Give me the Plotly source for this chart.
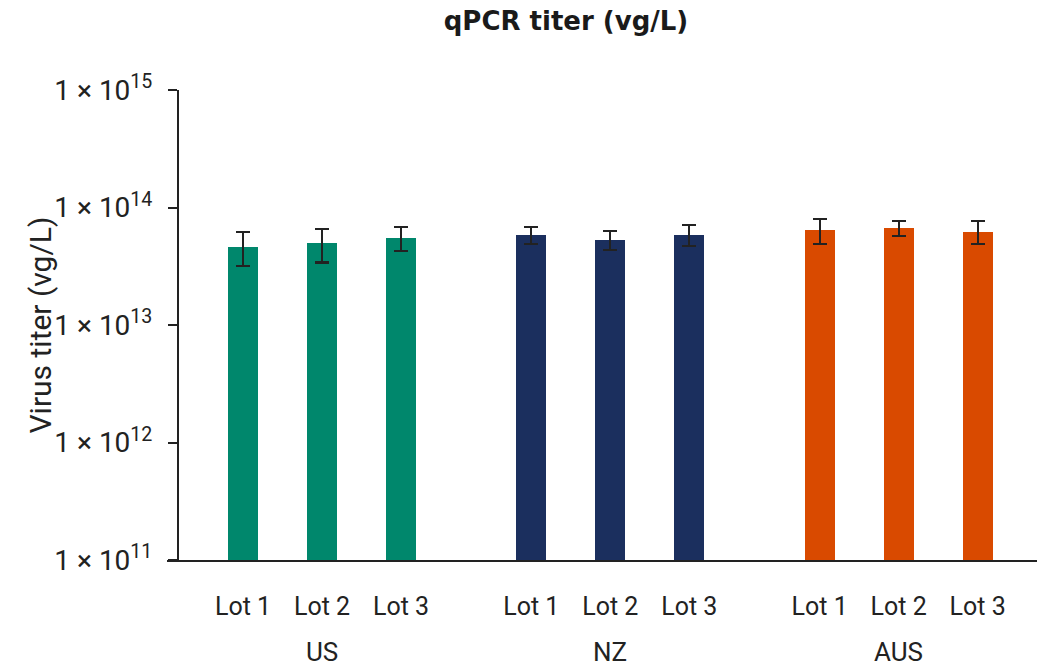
import plotly.graph_objects as go

groups = ["US", "NZ", "AUS"]
lots = ["Lot 1", "Lot 2", "Lot 3"]
colors = ["#00876C", "#1B2F5E", "#D94A00"]

# titers (vg/L) per group, per lot
values = {
    "US":  [4.64e13, 4.96e13, 5.53e13],
    "NZ":  [5.87e13, 5.33e13, 5.84e13],
    "AUS": [6.40e13, 6.69e13, 6.22e13],
}
err_hi = {
    "US":  [6.15e13, 6.56e13, 6.83e13],
    "NZ":  [6.87e13, 6.35e13, 7.06e13],
    "AUS": [8.00e13, 7.73e13, 7.63e13],
}
err_lo = {
    "US":  [3.20e13, 3.40e13, 4.29e13],
    "NZ":  [4.92e13, 4.37e13, 4.70e13],
    "AUS": [4.86e13, 5.76e13, 4.92e13],
}
ytick_exps = [11, 12, 13, 14, 15]

group_step = 3.65
FONT = "Roboto"

# page is shown with an 8px body margin; size the figure to fit the window
OFF = 8
W, H = 1045 - OFF, 668 - OFF
ML, MT, MB = 167 - OFF, 90 - OFF, 668 - 560
plot_w = W - ML

fig = go.Figure()
all_x, all_text = [], []
for gi, g in enumerate(groups):
    xs = [gi * group_step + i for i in range(len(lots))]
    all_x += xs
    all_text += lots
    v = values[g]
    fig.add_trace(go.Bar(
        x=xs, y=v, width=0.38, marker=dict(color=colors[gi], line=dict(width=0)),
        error_y=dict(type="data", symmetric=False,
                     array=[h - b for h, b in zip(err_hi[g], v)],
                     arrayminus=[b - l for l, b in zip(err_lo[g], v)],
                     color="#222222", thickness=2.2, width=7),
        showlegend=False, name=g,
    ))
    fig.add_annotation(x=gi * group_step + 1, y=0, xref="x", yref="paper",
                       yanchor="top", yshift=-75, text=g, showarrow=False,
                       font=dict(family=FONT, size=26, color="#222222"))

x0_px, unit_px = 243, 79
xr = [(167 - x0_px) / unit_px, (1045 - x0_px) / unit_px]

fig.update_layout(
    width=W, height=H,
    margin=dict(l=ML, r=0, t=MT, b=MB),
    plot_bgcolor="white", paper_bgcolor="white",
    font=dict(family=FONT, color="#222222"),
    bargap=0,
    title=dict(text="<b>qPCR titer (vg/L)</b>", x=(566 - OFF) / W, xanchor="center",
               y=1 - (21 - OFF) / H, yanchor="middle", xref="container", yref="container",
               font=dict(family="DejaVu Sans", size=26, color="#1a1a1a")),
    xaxis=dict(range=xr, tickvals=all_x, ticktext=all_text, showline=True,
               linecolor="#222222", linewidth=2, ticks="", showgrid=False,
               zeroline=False, tickfont=dict(family=FONT, size=25, color="#222222"),
               ticklabelstandoff=23),
    yaxis=dict(type="log", range=[11, 15], anchor="free", position=11 / plot_w,
               showline=True, linecolor="#222222", linewidth=2, ticks="outside",
               ticklen=9, tickwidth=2, tickcolor="#222222", showgrid=False, zeroline=False,
               tickvals=[10 ** e for e in ytick_exps],
               ticktext=[f"1 × 10<sup>{e}</sup>" for e in ytick_exps],
               tickfont=dict(family=FONT, size=28, color="#222222"),
               ticklabelstandoff=10),
)
fig.add_annotation(x=(20 - 167) / plot_w, y=0.5, xref="paper", yref="paper",
                   text="Virus titer (vg/L)", textangle=-90, showarrow=False,
                   font=dict(family=FONT, size=30, color="#222222"))

fig.write_html("out.html")
